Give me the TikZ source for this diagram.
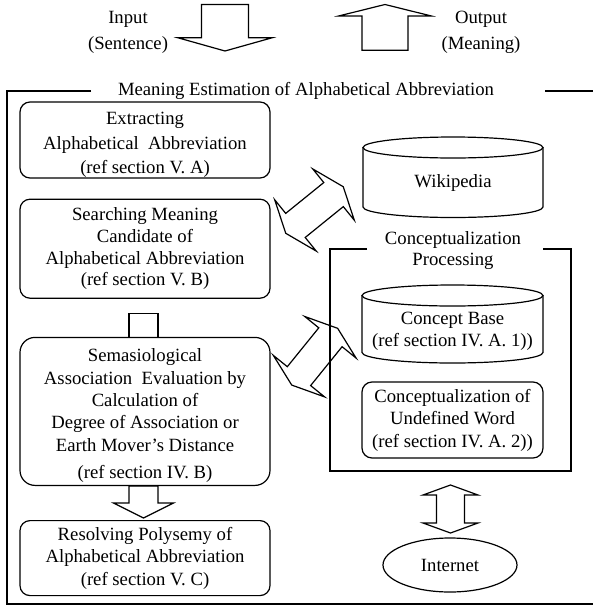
\documentclass[tikz,border=0pt]{standalone}
\usepackage{fontspec}
\setmainfont{Liberation Serif}
\usetikzlibrary{positioning, shapes.geometric, calc}

\begin{document}
\begin{tikzpicture}[
    x=1pt, y=1pt,
    every node/.style={font=\fontsize{18.7}{21.7}\selectfont, align=center, inner sep=0pt},
    procbox/.style={rectangle, draw=black, line width=1.2pt, rounded corners=10pt, minimum width=250pt},
    frameline/.style={line width=1.2pt},
    blockline/.style={draw=black, line width=1.2pt, line join=miter},
    pics/sglarrow/.style args={#1/#2/#3/#4}{code={
        \draw[blockline] (0,#3) -- (#1-#2,#3) -- (#1-#2,#4) -- (#1,0) -- (#1-#2,-#4) -- (#1-#2,-#3) -- (0,-#3) -- cycle;
    }},
    pics/dblarrow/.style args={#1/#2/#3/#4}{code={
        \draw[blockline] (-#1,0) -- (-#1+#2,#4) -- (-#1+#2,#3) -- (#1-#2,#3) -- (#1-#2,#4) -- (#1,0)
            -- (#1-#2,-#4) -- (#1-#2,-#3) -- (-#1+#2,-#3) -- (-#1+#2,-#4) -- cycle;
    }},
    pics/drum/.style args={#1/#2}{code={
        \draw[frameline] (-#1,0) -- (-#1,-#2) arc[start angle=180, end angle=360, x radius=#1, y radius=10.5] -- (#1,0);
        \draw[frameline] (0,0) ellipse[x radius=#1, y radius=10.5];
    }}
]
\useasboundingbox (0,0) rectangle (593,-606);

% ==== Input / Output ====
\node (input) at (128,-32.5) {Input\\[4pt](Sentence)};
\node (output) at (481,-32.5) {Output\\[4pt](Meaning)};
\pic[rotate=-90] at (225,-4.5) {sglarrow=46.5/13.2/23.5/47};
\pic[rotate=90] at (385,-50.3) {sglarrow=45.8/11.4/23/46};

% ==== Outer frame ====
\node (title) at (306,-91) {Meaning Estimation of Alphabetical Abbreviation};
\draw[frameline] (91,-91) -- (7,-91) -- (7,-604) -- (593,-604);
\draw[frameline] (545,-91) -- (593,-91);

% ==== Left column ====
\node[procbox, minimum height=76pt] (extract) at (145,-140) {\rule{0pt}{22pt}Extracting\\[2.8pt]Alphabetical\ \ Abbreviation\\[2.8pt](ref section V. A)};
\node[procbox, minimum height=99pt, below=20pt of extract] (search) {Searching Meaning\\Candidate of\\Alphabetical Abbreviation\\(ref section V. B)};
\node[procbox, minimum height=148pt, rounded corners=15pt, below=38pt of search] (semas) {\rule{0pt}{21pt}Semasiological\\[0.7pt]Association\ \ Evaluation by\\[0.7pt]Calculation of\\[0.7pt]Degree of Association or\\[0.7pt]Earth Mover’s Distance\\[5.3pt](ref section IV. B)};
\node[procbox, minimum height=75pt, below=34pt of semas] (resolve) {Resolving Polysemy of\\[0.7pt]Alphabetical Abbreviation\\[0.7pt](ref section V. C)};

\draw[blockline] ($(semas.north)+(-16,0)$) |- ($(search.south)+(13,-15)$) -- ($(semas.north)+(13,0)$);
\pic[rotate=-90] at ($(semas.south)+(-1.5,0)$) {sglarrow=32/15/14.5/30};

% ==== Right column ====
\pic at (453,-147.5) {drum=90/59.5};
\node (wiki) at (453,-183) {Wikipedia};

\node (cproc) at (453,-250.5) {Conceptualization\\Processing};
\draw[frameline] (367,-249) -- (330,-249) -- (330,-471) -- (571,-471) -- (571,-249) -- (543,-249);

\pic at (452.5,-295.5) {drum=90.5/57};
\node (cbase) at (452.5,-331) {Concept Base\\(ref section IV. A. 1))};
\node[procbox, minimum width=181pt, minimum height=76pt] (undef) at (452.5,-420) {Conceptualization of\\[0.7pt]Undefined Word\\[0.7pt](ref section IV. A. 2))};

\node[ellipse, draw=black, line width=1.2pt, minimum width=134pt, minimum height=54pt] (internet) at (450,-565) {Internet};

% ==== Exchange arrows ====
\pic[rotate=39] at (314.5,-210) {dblarrow=37/12.5/15.5/33};
\pic[rotate=51] at (314.7,-356.7) {dblarrow=36.5/11.5/15/33};
\pic[rotate=90] at (450.5,-509) {dblarrow=24/10/14/27.5};

\end{tikzpicture}
\end{document}
